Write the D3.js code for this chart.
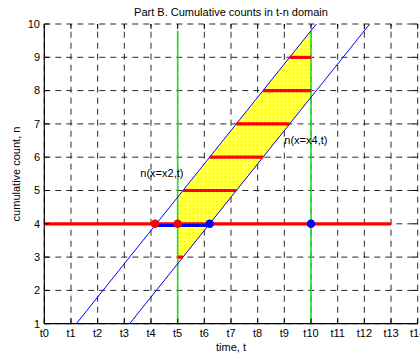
<!DOCTYPE html>
<html><head><meta charset="utf-8">
<script src="https://cdn.jsdelivr.net/npm/d3@7"></script>
<style>
html,body{margin:0;padding:0;background:#fff;}
svg{display:block;font-family:"Liberation Sans",Arial,Helvetica,sans-serif;}
</style></head>
<body>
<script>
// ---- data ----
const tTicks = d3.range(0, 15);
const tTickLabels = tTicks.map(d => "t" + d);
const nTicks = d3.range(1, 11);
const title = "Part B. Cumulative counts in t-n domain";
const xLabel = "time, t";
const yLabel = "cumulative count, n";
// blue boundary lines (t, n) endpoints
const blueLine1 = [[1.2, 1], [10.2, 10]];
const blueLine2 = [[3.2, 1], [12.2, 10]];
// yellow region corners (t, n)
const yellowRegion = [[5, 2.8], [5, 4.8], [10, 9.8], [10, 7.8]];
// green vertical lines at t
const greenT = [5, 10];
const greenN = [1, 9.8];
// red horizontal segments: n, t start, t end
const redN = [3, 4, 5, 6, 7, 8, 9];
const redStart = [5, 0, 5.2, 6.2, 7.2, 8.2, 9.2];
const redEnd = [5.2, 13, 7.2, 8.2, 9.2, 10, 10];
// blue thick segment
const blueSegN = 3.95;
const blueSegT = [4.1, 6.2];
// points
const redDotsT = [4.15, 5];
const redDotsN = [4, 4];
const blueDotsT = [6.2, 10];
const blueDotsN = [4, 4];
const labelTexts = ["n(x=x2,t)", "n(x=x4,t)"];
const labelT = [3.6, 9.0];
const labelN = [5.4, 6.4];

// ---- chart ----
const W = 420, H = 356;
const L = 44.3, R = 417.7, T = 24, B = 323.7;
const x = d3.scaleLinear().domain([0, 14]).range([L, R]);
const y = d3.scaleLinear().domain([1, 10]).range([B, T]);

const svg = d3.select("body").append("svg").attr("width", W).attr("height", H);
const defs = svg.append("defs");
const pat = defs.append("pattern").attr("id", "yel").attr("patternUnits", "userSpaceOnUse")
  .attr("width", 4).attr("height", 4);
pat.append("rect").attr("width", 4).attr("height", 4).attr("fill", "#ffff33");
pat.append("path").attr("d", "M3.5,0V4M0,3.5H4").attr("stroke", "#ffffa8").attr("stroke-width", 1);
defs.append("clipPath").attr("id", "clip").append("rect")
  .attr("x", L).attr("y", T).attr("width", R - L).attr("height", B - T);

const g = svg.append("g");
const dash = "6,5";
// grid
g.append("g").selectAll("line").data(tTicks).join("line")
  .attr("x1", d => x(d)).attr("x2", d => x(d)).attr("y1", B).attr("y2", T)
  .attr("stroke", "#111").attr("stroke-width", 0.9).attr("stroke-dasharray", dash);
g.append("g").selectAll("line").data(nTicks).join("line")
  .attr("x1", L).attr("x2", R).attr("y1", d => y(d)).attr("y2", d => y(d))
  .attr("stroke", "#111").attr("stroke-width", 0.9).attr("stroke-dasharray", dash);

const plot = g.append("g").attr("clip-path", "url(#clip)");
// yellow area
plot.append("path").datum(yellowRegion)
  .attr("d", d3.line().x(d => x(d[0])).y(d => y(d[1])).curve(d3.curveLinearClosed))
  .attr("fill", "url(#yel)").attr("stroke", "none");
// green lines
plot.selectAll(".gr").data(greenT).join("line").attr("class", "gr")
  .attr("x1", d => x(d)).attr("x2", d => x(d)).attr("y1", y(greenN[0])).attr("y2", y(greenN[1]))
  .attr("stroke", "#22dd22").attr("stroke-width", 1.6);
// blue lines
const ln = d3.line().x(d => x(d[0])).y(d => y(d[1]));
[blueLine1, blueLine2].forEach(l => {
  plot.append("path").attr("d", ln(l)).attr("stroke", "#0000ff").attr("stroke-width", 1).attr("fill", "none");
});
// red segments
plot.selectAll(".rs").data(redN).join("line").attr("class", "rs")
  .attr("x1", (d, i) => x(redStart[i])).attr("x2", (d, i) => x(redEnd[i]))
  .attr("y1", d => y(d)).attr("y2", d => y(d))
  .attr("stroke", "#ff0000").attr("stroke-width", 3.2);
// blue thick segment
plot.append("line").attr("x1", x(blueSegT[0])).attr("x2", x(blueSegT[1]))
  .attr("y1", y(blueSegN)).attr("y2", y(blueSegN))
  .attr("stroke", "#0000ff").attr("stroke-width", 3);
// dots
plot.selectAll(".rd").data(redDotsT).join("circle").attr("class", "rd")
  .attr("cx", d => x(d)).attr("cy", (d, i) => y(redDotsN[i])).attr("r", 4.3).attr("fill", "#ff0000");
plot.selectAll(".bd").data(blueDotsT).join("circle").attr("class", "bd")
  .attr("cx", d => x(d)).attr("cy", (d, i) => y(blueDotsN[i])).attr("r", 4.3).attr("fill", "#0000ff");
// labels
g.selectAll(".lb").data(labelTexts).join("text").attr("class", "lb")
  .attr("x", (d, i) => x(labelT[i])).attr("y", (d, i) => y(labelN[i]))
  .attr("font-size", 11).attr("fill", "#000").text(d => d);

// axes lines
g.append("line").attr("x1", L).attr("x2", L).attr("y1", T).attr("y2", B).attr("stroke", "#000").attr("stroke-width", 1.2);
g.append("line").attr("x1", L).attr("x2", R).attr("y1", B).attr("y2", B).attr("stroke", "#000").attr("stroke-width", 1.2);
// ticks (inward, all sides)
const tl = 5;
g.append("g").selectAll("line").data(tTicks).join("line")
  .attr("x1", d => x(d)).attr("x2", d => x(d)).attr("y1", B).attr("y2", B - tl).attr("stroke", "#000");
g.append("g").selectAll("line").data(tTicks).join("line")
  .attr("x1", d => x(d)).attr("x2", d => x(d)).attr("y1", T).attr("y2", T + tl).attr("stroke", "#000");
g.append("g").selectAll("line").data(nTicks).join("line")
  .attr("x1", L).attr("x2", L + tl).attr("y1", d => y(d)).attr("y2", d => y(d)).attr("stroke", "#000");
g.append("g").selectAll("line").data(nTicks).join("line")
  .attr("x1", R).attr("x2", R - tl).attr("y1", d => y(d)).attr("y2", d => y(d)).attr("stroke", "#000");

// tick labels
g.append("g").selectAll("text").data(tTicks).join("text")
  .attr("x", d => x(d)).attr("y", 337).attr("text-anchor", "middle")
  .attr("font-size", 11).text((d, i) => tTickLabels[i]);
g.append("g").selectAll("text").data(nTicks).join("text")
  .attr("x", 40).attr("y", d => y(d)).attr("dy", "0.35em").attr("text-anchor", "end")
  .attr("font-size", 11).text(d => d);

// titles
svg.append("text").attr("x", 231).attr("y", 16).attr("text-anchor", "middle")
  .attr("font-size", 11).text(title);
svg.append("text").attr("x", 231).attr("y", 351).attr("text-anchor", "middle")
  .attr("font-size", 11).text(xLabel);
svg.append("text").attr("transform", "translate(20,174) rotate(-90)").attr("text-anchor", "middle")
  .attr("font-size", 11).text(yLabel);
</script>
</body></html>
